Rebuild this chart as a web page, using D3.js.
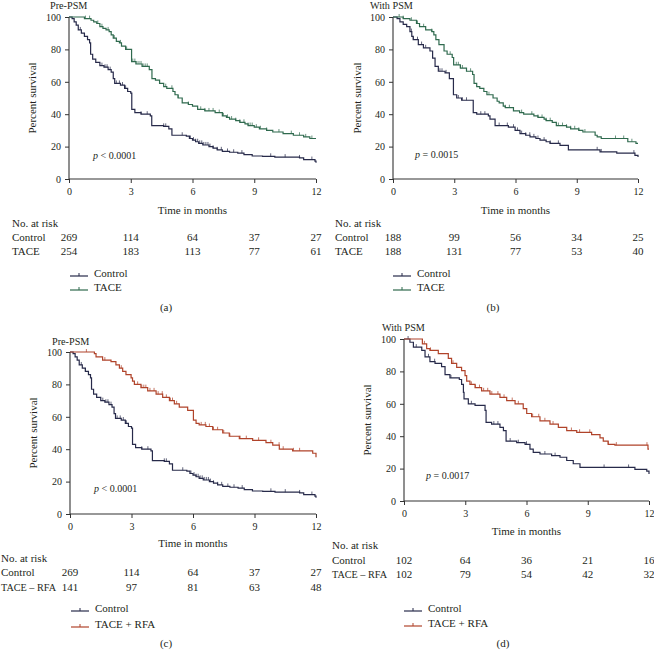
<!DOCTYPE html>
<html><head><meta charset="utf-8">
<script src="https://cdn.jsdelivr.net/npm/d3@7"></script>
<style>
html,body{margin:0;padding:0;background:#fff;}
svg text{font-family:"Liberation Serif","DejaVu Serif",serif;fill:#231f20;}
</style></head>
<body><svg id="c" width="654" height="650"></svg>
<script>
// ---------- DATA ----------
const timeTicks = [0, 3, 6, 9, 12];
const survTicks = [0, 20, 40, 60, 80, 100];

// Kaplan-Meier steps: [month, percent surviving]
const controlPre = [[0,100],[0.15,99],[0.25,97],[0.35,95],[0.45,92],[0.6,90],[0.75,88],[0.9,86],[1.0,84],[1.05,77],[1.15,74],[1.3,72],[1.5,70],[1.7,69],[1.9,67.5],[2.05,66],[2.15,62],[2.22,59],[2.5,58],[2.7,56],[2.85,54],[3.0,53],[3.05,43],[3.2,41],[3.5,40],[3.95,39],[4.02,33],[4.6,32.5],[4.85,31],[5.0,27],[5.7,26.5],[5.85,25],[6.0,24],[6.15,23],[6.3,22],[6.5,21],[6.8,20],[7.0,19],[7.2,18],[7.45,17],[7.8,16.5],[8.2,16],[8.5,15],[8.9,14.2],[9.4,14],[10.0,13.5],[11.2,13],[11.4,12],[11.95,11],[12,10]];
const controlPreCensor = [0.55,0.75,1.6,1.75,1.85,2.0,2.3,2.45,2.6,2.75,3.5,3.8,4.6,4.7,5.5,5.9,6.05,6.15,6.25,6.35,6.45,6.55,6.65,6.75,6.85,7.0,7.2,7.4,7.7,8.0,8.4,9.8,10.5,11.2,11.8];

const tacePre = [[0,100],[0.75,99],[1.07,98],[1.2,97],[1.35,96],[1.5,94],[1.65,93],[1.8,92],[1.95,91],[2.05,89],[2.15,87],[2.3,85],[2.45,84],[2.55,82],[2.75,80],[3.04,72.5],[3.25,71],[3.55,69.5],[3.9,67.5],[4.03,62],[4.2,61],[4.4,59],[4.6,57],[4.75,56],[5.05,54],[5.15,52],[5.3,50],[5.5,47],[5.8,46],[6.0,45],[6.25,43],[6.6,42],[7.1,41],[7.45,39],[7.65,38],[7.8,37],[8.1,36],[8.3,35],[8.55,34],[8.7,33],[9.0,32],[9.25,31],[9.6,30],[9.9,29],[10.4,28],[10.9,27],[11.4,26],[11.7,25]];
const tacePreCensor = [0.8,1.0,1.4,1.6,1.9,2.2,2.5,2.8,3.1,3.2,3.3,3.4,3.5,3.6,3.7,3.8,4.4,4.7,5.0,5.3,5.8,6.4,6.6,6.8,7.0,7.3,7.5,7.7,7.9,8.1,8.3,8.5,8.7,8.8,8.9,9.1,9.3,9.6,10.2,10.8,11.2,11.5,11.8];

const controlPost = [[0,100],[0.2,99],[0.34,97],[0.5,95.5],[0.67,94],[0.83,91],[0.92,88],[0.99,86],[1.24,83],[1.49,81],[1.81,79],[1.94,74.6],[2.06,69.5],[2.22,66.5],[2.55,65.5],[2.76,62],[2.96,52],[3.12,50],[3.36,48.6],[3.93,41],[4.1,40],[4.67,39],[4.75,37],[5.0,33],[5.65,32],[5.98,30],[6.22,28],[6.5,27],[6.71,26],[7.0,25],[7.2,24],[7.5,23],[7.69,22],[8.18,20.7],[8.59,18],[10.14,16.7],[10.96,16],[11.85,14.6],[12,13.6]];
const controlPostCensor = [0.9,1.0,1.2,1.4,1.6,2.3,2.4,2.6,3.2,3.4,3.6,4.3,4.5,5.2,5.6,5.9,6.1,6.3,6.5,6.7,6.9,7.1,7.4,7.7,8.1,10.0,10.2,11.8];

const tacePost = [[0,100],[0.5,99],[0.83,98],[1.15,96],[1.3,94],[1.6,92],[1.9,91],[2.0,89],[2.1,86],[2.25,83],[2.5,79],[2.65,77],[2.9,75],[2.97,70.5],[3.3,68.5],[3.6,66.5],[3.9,64.5],[3.97,59],[4.1,57],[4.25,56],[4.45,54],[4.6,52],[4.9,50],[5.1,48],[5.2,47],[5.4,45],[5.5,44],[5.9,42],[6.2,41],[6.4,40],[6.9,39],[7.1,38],[7.4,37],[7.5,36],[7.8,35],[8.0,33],[8.5,32],[8.7,31],[9.1,30],[9.3,29],[9.9,27],[10.0,26],[10.2,25],[11.5,23],[11.9,22]];
const tacePostCensor = [0.3,0.5,0.9,1.2,1.5,1.9,2.8,3.1,3.2,3.3,3.4,3.6,3.8,4.7,5.5,5.7,5.9,6.3,6.8,7.1,7.3,7.5,7.7,8.1,8.3,8.5,8.7,8.9,9.1,9.4,10.9,11.3,11.7];

const rfaPre = [[0,100],[1.19,99],[1.27,97],[1.59,95],[2.0,94],[2.24,92],[2.41,90],[2.57,88],[2.73,86],[2.98,84],[3.05,82],[3.14,80],[3.46,78],[3.79,76],[4.2,74],[4.52,72],[4.85,70],[5.09,68],[5.33,66],[5.74,64],[6.02,58],[6.15,56],[6.3,55],[6.63,54],[6.96,52],[7.45,50],[7.77,48],[8.26,46.5],[8.91,45.5],[9.56,44],[9.89,42.5],[10.21,40],[10.86,39],[11.84,37.5],[12,35]];
const rfaPreCensor = [0.8,1.7,2.5,3.3,3.5,3.6,3.7,3.9,4.1,4.3,4.5,4.7,4.9,5.0,5.2,6.4,6.6,6.8,7.0,7.2,7.5,7.8,8.3,8.6,9.2,9.8,10.2,10.4,10.9,11.2];

const controlPostB = [[0,100],[0.29,98],[0.46,95],[0.87,93],[1.03,89],[1.27,86],[1.52,85],[1.84,83],[2.01,78],[2.25,76],[2.71,75],[2.82,72],[2.91,67],[2.94,63],[3.15,60],[3.48,59],[3.97,56],[4.02,48.5],[4.29,47.5],[4.7,45.5],[4.87,43.5],[5.0,37],[5.52,36],[5.93,35],[6.17,32],[6.33,30],[6.66,29],[7.23,28],[7.64,27],[7.97,25],[8.29,23],[8.62,20.7],[11.31,19.5],[11.89,18.5],[12,16.7]];
const controlPostBCensor = [0.2,0.6,1.2,1.5,2.3,3.3,4.4,4.6,5.2,5.6,6.0,6.9,7.4,9.8,11.0];

const rfaPost = [[0,100],[0.9,97],[1.11,94],[1.27,93],[1.68,91],[2.17,88],[2.33,85],[2.58,82.5],[2.82,80.5],[2.99,77.4],[3.07,74],[3.23,72],[3.48,70],[3.8,68],[4.21,66],[4.7,64],[5.03,62],[5.44,60],[5.84,57],[6.01,54],[6.25,52],[6.66,49.5],[7.15,47.5],[7.56,45.5],[7.97,43.5],[8.46,42.4],[9.19,41],[9.6,39],[9.76,37],[10.0,35],[10.33,34.5],[11.95,32]];
const rfaPostCensor = [1.0,1.3,2.4,3.3,3.5,3.7,3.9,4.1,4.3,4.6,4.9,5.3,5.6,6.3,6.6,6.9,7.3,8.2,8.6,9.1,10.0,10.4,11.9];

// Numbers at risk at timeTicks
const riskA = {Control:[269,114,64,37,27], TACE:[254,183,113,77,61]};
const riskB = {Control:[188,99,56,34,25], TACE:[188,131,77,53,40]};
const riskC = {Control:[269,114,64,37,27], "TACE – RFA":[141,97,81,63,48]};
const riskD = {Control:[102,64,36,21,16], "TACE – RFA":[102,79,54,42,32]};

const pA = "< 0.0001", pB = "= 0.0015", pC = "< 0.0001", pD = "= 0.0017";

// ---------- STYLE ----------
const colControl = "#272a4a", colTace = "#2f6a4e", colRfa = "#b0432a";

const svg = d3.select("#c");

function panel(cfg){
  const g = svg.append("g");
  const x = d3.scaleLinear().domain([0,12]).range([cfg.x0, cfg.x1]);
  const y = d3.scaleLinear().domain([0,100]).range([cfg.yb, cfg.yt]);

  // axes
  const ax = g.append("g").attr("transform",`translate(0,${cfg.yb})`)
    .call(d3.axisBottom(x).tickValues(timeTicks).tickSize(4).tickPadding(5));
  const ay = g.append("g").attr("transform",`translate(${cfg.x0},0)`)
    .call(d3.axisLeft(y).tickValues(survTicks).tickSize(4).tickPadding(4));
  [ax,ay].forEach(a=>{
    a.select(".domain").attr("stroke","#333").attr("stroke-width",1.1);
    a.selectAll(".tick line").attr("stroke","#333").attr("stroke-width",1);
    a.selectAll(".tick text").attr("font-size",10).attr("font-family","Liberation Serif").attr("fill","#231f20");
  });
  ax.select(".domain").attr("d",`M${cfg.x0},0H${cfg.x1}`);
  ay.select(".domain").attr("d",`M0,${cfg.yb}V${cfg.yt}`);

  // titles (y is baseline)
  g.append("text").attr("x",cfg.titleX).attr("y",cfg.titleBase)
    .attr("font-size",10.2).text(cfg.title);
  g.append("text").attr("transform",`translate(${cfg.ylabX},${(cfg.yt+cfg.yb)/2}) rotate(-90)`)
    .attr("text-anchor","middle").attr("dy","0.35em").attr("font-size",11).text("Percent survival");
  g.append("text").attr("x",(cfg.x0+cfg.x1)/2).attr("y",cfg.xTitleY).attr("dy","0.35em")
    .attr("text-anchor","middle").attr("font-size",11).text("Time in months");

  // p value
  const pt = g.append("text").attr("x",cfg.pX).attr("y",cfg.pY).attr("dy","0.35em").attr("font-size",10);
  pt.append("tspan").attr("font-style","italic").text("p");
  pt.append("tspan").text(" " + cfg.p);

  // curves
  const line = d3.line().x(d=>x(d[0])).y(d=>y(d[1])).curve(d3.curveStepAfter);
  cfg.series.forEach(s=>{
    const pts = s.steps.slice();
    const last = pts[pts.length-1];
    if (last[0] < 12) pts.push([12,last[1]]);
    g.append("path").attr("d",line(pts)).attr("fill","none")
      .attr("stroke",s.color).attr("stroke-width",1.2);
    const surv = t => { let v=100; for (const p of s.steps){ if (p[0]<=t) v=p[1]; else break;} return v; };
    g.selectAll(null).data(s.censor).join("line")
      .attr("x1",d=>x(d)).attr("x2",d=>x(d))
      .attr("y1",d=>y(surv(d))).attr("y2",d=>y(surv(d))-3)
      .attr("stroke",s.color).attr("stroke-width",0.9).attr("opacity",0.8);
  });

  // risk table
  g.append("text").attr("x",cfg.labelX).attr("y",cfg.riskHeadY).attr("dy","0.35em").attr("font-size",11).text("No. at risk");
  Object.entries(cfg.risk).forEach(([name,vals],i)=>{
    const ry = cfg.riskRows[i];
    g.append("text").attr("x",cfg.labelX).attr("y",ry).attr("dy","0.35em")
      .attr("font-size", name.length > 8 ? 10.2 : 11).text(name);
    g.selectAll(null).data(vals).join("text")
      .attr("x",(d,j)=>x(timeTicks[j])).attr("y",ry).attr("dy","0.35em")
      .attr("text-anchor","middle").attr("font-size",11).text(d=>d);
  });

  // legend
  cfg.series.forEach((s,i)=>{
    const ly = cfg.legendY[i];
    g.append("line").attr("x1",cfg.legendX).attr("x2",cfg.legendX+18).attr("y1",ly+3).attr("y2",ly+3)
      .attr("stroke",s.color).attr("stroke-width",1.2);
    g.append("line").attr("x1",cfg.legendX+9).attr("x2",cfg.legendX+9).attr("y1",ly+3).attr("y2",ly)
      .attr("stroke",s.color).attr("stroke-width",1);
    g.append("text").attr("x",cfg.legendX+24).attr("y",ly).attr("dy","0.35em").attr("font-size",11).text(s.name);
  });

  g.append("text").attr("x",cfg.capX).attr("y",cfg.capY).attr("dy","0.35em").attr("text-anchor","middle")
    .attr("font-size",11).text(cfg.caption);
}

panel({x0:69,x1:316,yt:17,yb:179,title:"Pre-PSM",titleX:50,titleBase:9.2,ylabX:32,xTitleY:210,
  pX:93,pY:155,p:pA,riskHeadY:223,riskRows:[237,251],labelX:12,risk:riskA,
  legendX:70,legendY:[273,287],capX:166,capY:307,caption:"(a)",
  series:[{name:"Control",color:colControl,steps:controlPre,censor:controlPreCensor},
          {name:"TACE",color:colTace,steps:tacePre,censor:tacePreCensor}]});

panel({x0:393,x1:638,yt:17,yb:179,title:"With PSM",titleX:370,titleBase:9.2,ylabX:357,xTitleY:210,
  pX:415,pY:154,p:pB,riskHeadY:223,riskRows:[237,251],labelX:335,risk:riskB,
  legendX:393,legendY:[273,287],capX:493,capY:307,caption:"(b)",
  series:[{name:"Control",color:colControl,steps:controlPost,censor:controlPostCensor},
          {name:"TACE",color:colTace,steps:tacePost,censor:tacePostCensor}]});

panel({x0:70,x1:316,yt:352,yb:514,title:"Pre-PSM",titleX:52,titleBase:345,ylabX:33,xTitleY:543,
  pX:94,pY:488,p:pC,riskHeadY:558,riskRows:[572,587],labelX:1,risk:riskC,
  legendX:71,legendY:[608,624],capX:166,capY:643,caption:"(c)",
  series:[{name:"Control",color:colControl,steps:controlPre,censor:controlPreCensor},
          {name:"TACE + RFA",color:colRfa,steps:rfaPre,censor:rfaPreCensor}]});

panel({x0:404,x1:649,yt:339,yb:501,title:"With PSM",titleX:382,titleBase:331,ylabX:367,xTitleY:531,
  pX:426,pY:475,p:pD,riskHeadY:545,riskRows:[560,574],labelX:332,risk:riskD,
  legendX:404,legendY:[608,623],capX:503,capY:643,caption:"(d)",
  series:[{name:"Control",color:colControl,steps:controlPostB,censor:controlPostBCensor},
          {name:"TACE + RFA",color:colRfa,steps:rfaPost,censor:rfaPostCensor}]});
</script></body></html>
